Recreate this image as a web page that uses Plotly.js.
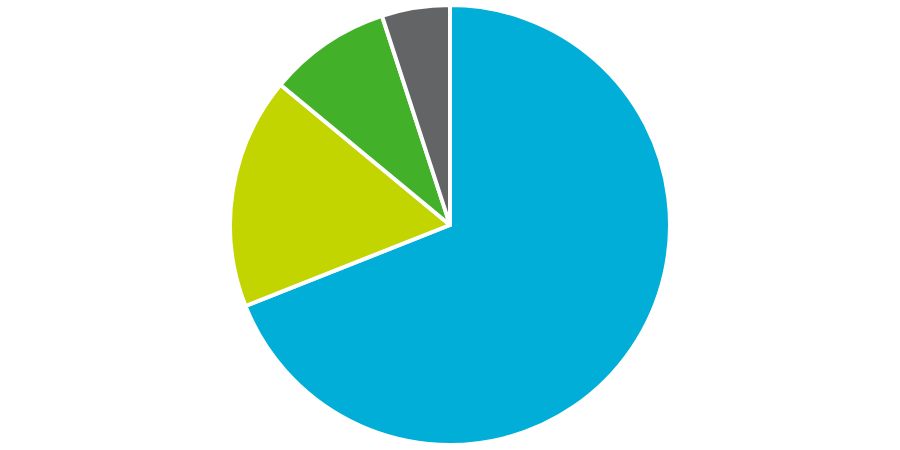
<!DOCTYPE html>
<html>
<head>
<meta charset="utf-8">
<script src="https://cdn.plot.ly/plotly-3.0.1.min.js"></script>
<style>
  html, body { margin: 0; padding: 0; background: #fff; }
  #chart { width: 900px; height: 450px; }
</style>
</head>
<body>
<div id="chart"></div>
<script>
var labels = ['A', 'B', 'C', 'D'];
var values = [69, 17, 9, 5];
var colors = ['#00AED7', '#C3D500', '#43B02A', '#636466'];

var el = document.getElementById('chart');

let trace = {
  type: 'pie',
  labels: labels,
  values: values,
  sort: false,
  direction: 'clockwise',
  rotation: 0,
  textinfo: 'none',
  hoverinfo: 'label+percent',
  marker: { colors: colors, line: { color: '#ffffff', width: 4 } }
};

let layout = {
  width: 900,
  height: 450,
  margin: { t: 5, b: 5, l: 0, r: 0 },
  showlegend: false,
  paper_bgcolor: '#ffffff'
};

Plotly.newPlot(el, [trace], layout, { displayModeBar: false, staticPlot: true });
</script>
</body>
</html>
